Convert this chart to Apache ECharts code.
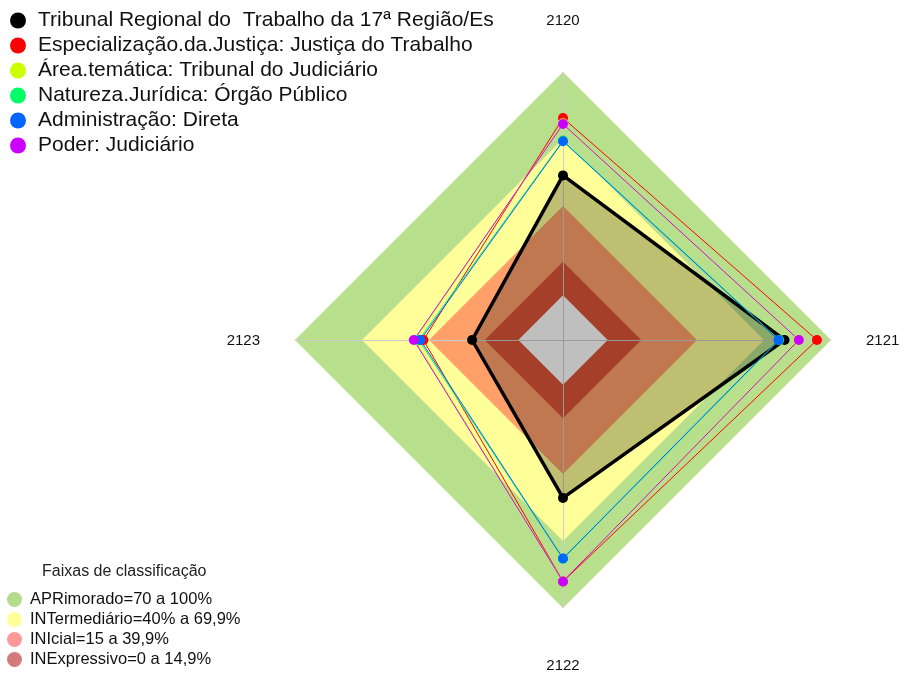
<!DOCTYPE html>
<html>
<head>
<meta charset="utf-8">
<script src="https://cdn.jsdelivr.net/npm/echarts@6/dist/echarts.min.js"></script>
<style>
html, body { margin: 0; padding: 0; background: #fff; }
#main { width: 905px; height: 675px; }
</style>
</head>
<body>
<div id="main"></div>
<script>
// eixos do radar (sentido horario a partir do topo)
var categorias = ['2120', '2121', '2122', '2123'];

var nomesSeries = [
	'Tribunal Regional do  Trabalho da 17ª Região/Es',
	'Especialização.da.Justiça: Justiça do Trabalho',
	'Área.temática: Tribunal do Judiciário',
	'Natureza.Jurídica: Órgão Público',
	'Administração: Direta',
	'Poder: Judiciário'
];
var coresSeries = ['#000000', '#FF0000', '#CCFF00', '#00FF66', '#0066FF', '#CC00FF'];

// valores em % por eixo (2120, 2121, 2122, 2123)
var tribunal       = [53.7, 79.2, 50.7, 20.7];
var especializacao = [79.4, 93.7, 88.1, 42.5];
var areaTematica   = [77.0, 85.3, 88.0, 46.2];
var natureza       = [69.3, 76.8, 78.0, 44.6];
var administracao  = [69.0, 76.5, 77.8, 43.9];
var poder          = [76.7, 85.6, 88.1, 46.8];

// faixas de classificacao
var faixasNomes = ['APRimorado=70 a 100%', 'INTermediário=40% a 69,9%', 'INIcial=15 a 39,9%', 'INExpressivo=0 a 14,9%'];
var faixasLimites = [100, 70, 40, 15];
var faixasCoresLegenda = ['#B4DC8A', '#FFFF99', '#FF9999', '#D47A7A'];
var faixasCoresArea = ['#B8E08C', '#FFFF99', '#FFA06A', '#DC5538'];

var escalaMin = -20, escalaMax = 100;

// echarts desenha os eixos no sentido anti-horario
var ordemEixos = [0, 3, 2, 1];
function ordena(v){
	return ordemEixos.map(function(i){ return v[i]; });
}

var indicadores = ordemEixos.map(function(i){
	return { name: categorias[i], min: escalaMin, max: escalaMax };
});

var series = [];
// faixas (preenchidas)
faixasLimites.forEach(function(lim, i){
	series.push({
		type: 'radar', radarIndex: 0, z: 1, silent: true,
		symbol: 'none',
		lineStyle: { width: 0 },
		areaStyle: { color: faixasCoresArea[i], opacity: 1 },
		data: [{ name: faixasNomes[i], value: ordena(categorias.map(function(){ return lim; })) }]
	});
});
// miolo
series.push({
	type: 'radar', radarIndex: 0, z: 1, silent: true,
	symbol: 'none',
	lineStyle: { width: 0 },
	areaStyle: { color: '#FFFFFF', opacity: 1 },
	data: [{ name: 'miolo', value: ordena(categorias.map(function(){ return 0; })) }]
});

var valores = [tribunal, especializacao, areaTematica, natureza, administracao, poder];
valores.forEach(function(v, i){
	var s = {
		type: 'radar', radarIndex: 0, z: 3,
		symbol: 'circle', symbolSize: 10,
		itemStyle: { color: coresSeries[i] },
		lineStyle: { width: i === 0 ? 3.5 : 1, color: coresSeries[i] },
		data: [{ name: nomesSeries[i], value: ordena(v) }]
	};
	if (i === 0) s.areaStyle = { color: 'rgba(0,0,0,0.25)', opacity: 1 };
	series.push(s);
});

var chart = echarts.init(document.getElementById('main'));
chart.setOption({
	animation: false,
	textStyle: { fontFamily: 'Liberation Sans, Arial, sans-serif' },
	title: {
		text: 'Faixas de classificação',
		left: 37, top: 559,
		textStyle: { fontSize: 16, fontWeight: 'normal', color: '#222' }
	},
	legend: [{
		orient: 'vertical', left: 5, top: 5,
		icon: 'circle', itemWidth: 16, itemHeight: 16, itemGap: 4,
		textStyle: { fontSize: 21, color: '#111', padding: [0, 0, 0, 7] },
		data: nomesSeries
	}, {
		orient: 'vertical', left: 2, top: 586,
		icon: 'circle', itemWidth: 15, itemHeight: 15, itemGap: 3,
		textStyle: { fontSize: 16.5, color: '#111', padding: [0, 0, 0, 3] },
		data: faixasNomes.map(function(n, i){
			return { name: n, itemStyle: { color: faixasCoresLegenda[i] } };
		})
	}],
	radar: [{
		center: [563, 340], radius: 268,
		shape: 'polygon', startAngle: 90,
		indicator: indicadores,
		axisName: {
			color: '#111', fontSize: 15,
			formatter: function(nome){
				return (nome === '2120' || nome === '2122') ? '{v|' + nome + '}' : '{h|' + nome + '}';
			},
			rich: {
				v: { fontSize: 15, color: '#111', padding: [15, 0, 9, 0] },
				h: { fontSize: 15, color: '#111', padding: [2, 0, 0, 0] }
			}
		},
		nameGap: 35,
		axisLine: { show: false },
		splitLine: { show: false },
		splitArea: { show: false },
		axisTick: { show: false },
		axisLabel: { show: false }
	}, {
		center: [563, 340], radius: 268, z: 2,
		shape: 'polygon', startAngle: 90,
		indicator: indicadores,
		axisName: { show: false },
		axisLine: { show: true, lineStyle: { color: '#CCCCCC', width: 1 } },
		splitLine: { show: false },
		splitArea: { show: false },
		axisTick: { show: false },
		axisLabel: { show: false }
	}],
	series: series
});
</script>
</body>
</html>
